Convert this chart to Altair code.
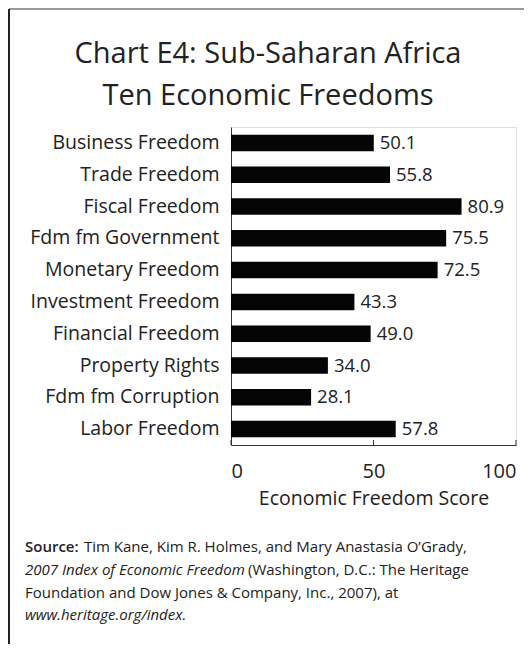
import altair as alt
import pandas as pd

categories = ["Business Freedom", "Trade Freedom", "Fiscal Freedom", "Fdm fm Government",
              "Monetary Freedom", "Investment Freedom", "Financial Freedom", "Property Rights",
              "Fdm fm Corruption", "Labor Freedom"]
scores = [50.1, 55.8, 80.9, 75.5, 72.5, 43.3, 49.0, 34.0, 28.1, 57.8]
tick_values = [0, 50, 100]
title_line1 = "Chart E4: Sub-Saharan Africa"
title_line2 = "Ten Economic Freedoms"
x_title = "Economic Freedom Score"
source_bold = "Source:"
source_l1 = "Tim Kane, Kim R. Holmes, and Mary Anastasia O\u2019Grady,"
source_l2_italic = "2007 Index of Economic Freedom"
source_l2 = "(Washington, D.C.: The Heritage"
source_l3 = "Foundation and Dow Jones & Company, Inc., 2007), at"
source_l4_italic = "www.heritage.org/index."

FONT = "Open Sans"
TXT = "#222222"
W, H = 285, 318

df = pd.DataFrame({"cat": categories, "score": scores})
ticks_df = pd.DataFrame({"t": tick_values})

y_enc = alt.Y("cat:N", sort=categories,
              scale=alt.Scale(paddingInner=0.48, paddingOuter=0.24),
              axis=alt.Axis(title=None, ticks=False, labelFontSize=19.5, labelColor=TXT,
                            labelFont=FONT, labelPadding=12, domainColor="#333333",
                            labelLimit=300))
x_enc = alt.X("score:Q", scale=alt.Scale(domain=[0, 100], nice=False),
              axis=alt.Axis(values=tick_values, ticks=False, grid=False, labelFontSize=20,
                            labelFont=FONT, labelColor=TXT, labelPadding=16,
                            domainColor="#333333", title=x_title, titleFont=FONT,
                            titleFontSize=19.5, titleFontWeight="normal", titleColor=TXT,
                            titlePadding=8))

bars = alt.Chart(df).mark_bar(color="#050505").encode(x=x_enc, y=y_enc)
labels = alt.Chart(df).mark_text(align="left", baseline="middle", dx=6, fontSize=18.5,
                                 font=FONT, color=TXT).encode(
    x="score:Q", y=alt.Y("cat:N", sort=categories), text=alt.Text("score:Q", format=".1f"))

tick_rules = alt.Chart(ticks_df).mark_rule(color="#333333", strokeWidth=1).encode(
    x="t:Q", y=alt.value(H - 5), y2=alt.value(H))


def txt(text, x, y, size=15, align="left", baseline="middle", style="normal", weight="normal"):
    return alt.Chart(pd.DataFrame({"s": [text]})).mark_text(
        align=align, baseline=baseline, fontSize=size, font=FONT, color=TXT,
        fontStyle=style, fontWeight=weight).encode(
        x=alt.value(x), y=alt.value(y), text="s:N")


titles = [
    txt(title_line1, 37, -64, size=29, align="center", baseline="alphabetic"),
    txt(title_line2, 37, -22, size=29, align="center", baseline="alphabetic"),
]

src = [
    txt(source_bold, -206, 420, weight=600),
    txt(source_l1, -147, 420),
    txt(source_l2_italic, -206, 443, style="italic"),
    txt(source_l2, 17, 443),
    txt(source_l3, -206, 466),
    txt(source_l4_italic, -206, 488, style="italic"),
]

one = pd.DataFrame({"a": [0]})
top_border = alt.Chart(one).mark_rule(color="#999999", strokeWidth=2).encode(
    x=alt.value(-222), x2=alt.value(293), y=alt.value(-118))
left_border = alt.Chart(one).mark_rule(color="#222222", strokeWidth=2).encode(
    x=alt.value(-222), y=alt.value(-118), y2=alt.value(517))

chart = alt.layer(bars, labels, tick_rules, *titles, *src, top_border, left_border).properties(
    width=W, height=H,
    autosize=alt.AutoSizeParams(type="none"),
    padding={"left": 223, "top": 119, "right": 8, "bottom": 199},
).configure_view(stroke=None).configure(background="white")

chart.save("out.html", embed_options={"renderer": "svg", "actions": False})
